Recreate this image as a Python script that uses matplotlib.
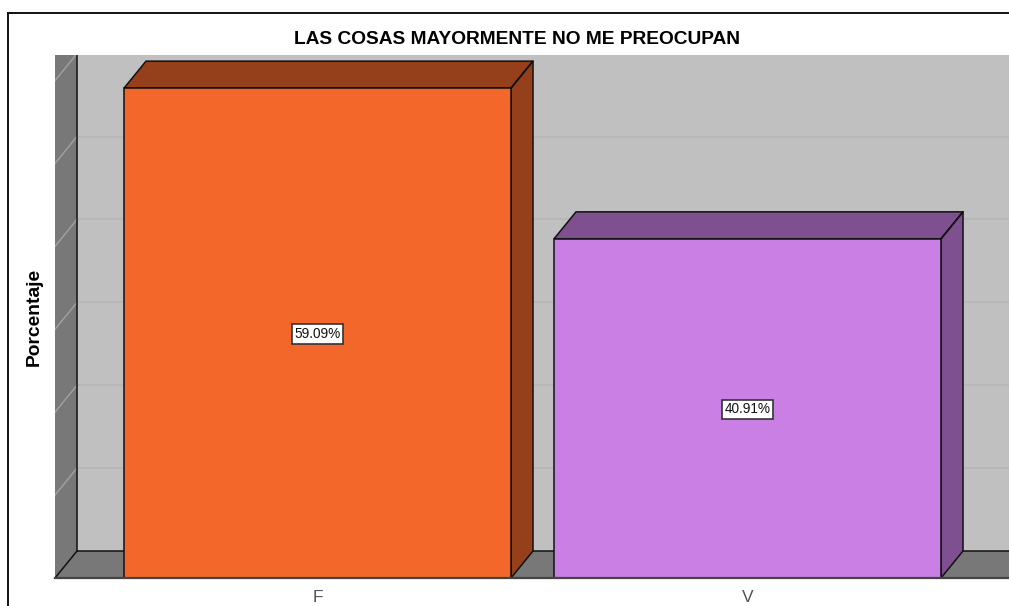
import matplotlib
matplotlib.use('Agg')
import matplotlib.pyplot as plt
from matplotlib.patches import Polygon, Rectangle

categorias = ['F', 'V']
porcentajes = [59.09, 40.91]
etiquetas = ['59.09%', '40.91%']
colores = ['#F3682A', '#CA7FE5']
colores_oscuros = ['#963F1B', '#7F5090']
marcas_y = [10, 20, 30, 40, 50, 60]

plt.rcParams['font.family'] = ['Liberation Sans', 'DejaVu Sans']

W, H = 1009, 606
fig = plt.figure(figsize=(W / 100, H / 100), dpi=100)
# ejes colocados en pixeles de la imagen
izq, der, arriba, abajo = 55, 1009, 55, 578
ax = fig.add_axes([izq / W, 1 - abajo / H, (der - izq) / W, (abajo - arriba) / H])

px_x = 430.0  # pixeles por categoria
px_y = 8.29   # pixeles por punto porcentual
ax.set_xlim((izq - 317.5) / px_x, (der - 317.5) / px_x)
ax.set_ylim(0, (abajo - arriba) / px_y)
ancho = 387 / px_x
dx = 22 / px_x
dy = 27 / px_y
x0, x1 = ax.get_xlim()
y1 = ax.get_ylim()[1]

# pared del fondo, pared lateral y piso
ax.add_patch(Rectangle((x0, 0), x1 - x0, y1, fc='#C0C0C0', ec='none', zorder=1))
ax.add_patch(Polygon([(x0, 0), (x0 + dx, dy), (x0 + dx, y1 + 5), (x0, y1 + 5)],
                     fc='#787878', ec='none', zorder=1.2))
ax.add_patch(Polygon([(x0, 0), (x0 + dx, dy), (x1 + 1, dy), (x1 + 1, 0)],
                     fc='#787878', ec='none', zorder=1.2))
for m in marcas_y:
    ax.plot([x0 + dx, x1], [m + dy, m + dy], color='#B6B6B6', lw=1.2, zorder=1.5)
    ax.plot([x0, x0 + dx], [m, m + dy], color='#A2A2A2', lw=1, zorder=1.5)
ax.plot([x0 + dx, x0 + dx], [dy, y1], color='#111111', lw=1.1, zorder=2)
ax.plot([x0 + dx, x1], [dy, dy], color='#111111', lw=1.1, zorder=2)
ax.plot([x0, x0 + dx], [0, dy], color='#111111', lw=1.1, zorder=2)

# barras con su cara superior y lateral
for i, v in enumerate(porcentajes):
    a, b = i - ancho / 2, i + ancho / 2
    ax.bar(i, v, width=ancho, color=colores[i], edgecolor='#111111', linewidth=1.1, zorder=4)
    ax.add_patch(Polygon([(a, v), (a + dx, v + dy), (b + dx, v + dy), (b, v)],
                         fc=colores_oscuros[i], ec='#111111', lw=1.1, zorder=3.5))
    ax.add_patch(Polygon([(b, 0), (b + dx, dy), (b + dx, v + dy), (b, v)],
                         fc=colores_oscuros[i], ec='#111111', lw=1.1, zorder=3.5))
    ax.plot([b, b + dx], [v, v + dy], color='#111111', lw=1.1, zorder=3.6)
    ax.text(i, v / 2 - 0.1, etiquetas[i], ha='center', va='center', fontsize=9.8, color='#111111', zorder=6,
            bbox=dict(boxstyle='square,pad=0.2', fc='white', ec='#333333', lw=1.2))

ax.plot([x0, x1], [0, 0], color='#444444', lw=1.6, zorder=5, clip_on=False)

ax.set_xticks(range(len(categorias)))
ax.set_xticklabels(categorias, fontsize=12.5, color='#555555')
ax.tick_params(axis='x', length=0, pad=8.5)
ax.set_yticks([])
for s in ax.spines.values():
    s.set_visible(False)

# marco exterior
fig.add_artist(plt.Line2D([8 / W, 8 / W], [0, 1 - 13 / H], color='#111111', lw=1.4))
fig.add_artist(plt.Line2D([8 / W, 1], [1 - 13 / H, 1 - 13 / H], color='#111111', lw=1.4))

fig.text(516.5 / W, 1 - 40 / H, 'LAS COSAS MAYORMENTE NO ME PREOCUPAN', ha='center', va='center',
         fontsize=13.8, color='black', fontweight='bold')
fig.text(34 / W, 1 - 316.5 / H, 'Porcentaje', rotation=90, ha='center', va='center',
         fontsize=13.9, color='black', fontweight='bold')

fig.savefig('out.png', dpi=100)
